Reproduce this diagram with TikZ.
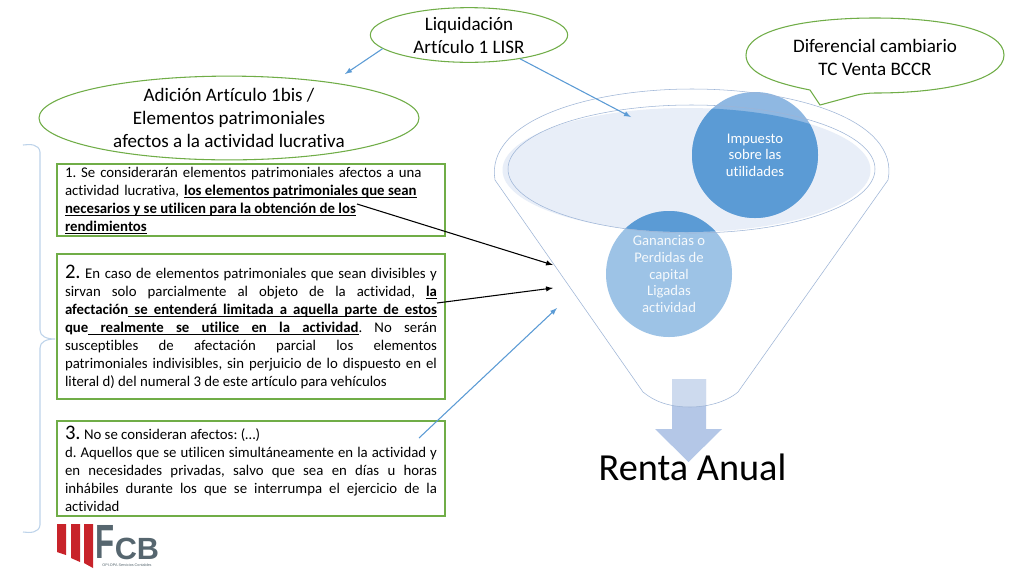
\documentclass[tikz,border=0pt]{standalone}
\usepackage{fontspec}
\setmainfont{Carlito}[Ligatures={NoCommon,TeX}]
\newfontfamily\logofont{Liberation Sans}
\usetikzlibrary{shapes.geometric}
\definecolor{bubbleGreen}{HTML}{70AD47}
\definecolor{funnelLine}{HTML}{9DB4D6}
\definecolor{arrowBlue}{HTML}{5B9BD5}
\definecolor{circleDark}{HTML}{5B9BD5}
\definecolor{circleLight}{HTML}{9DC3E6}
\definecolor{circleTop}{HTML}{8FB8E2}
\definecolor{funnelFill}{HTML}{E8EEF8}
\definecolor{bigArrow}{HTML}{B4C7E7}
\definecolor{bigArrowTop}{HTML}{CDDAEE}
\definecolor{braceBlue}{HTML}{BDD3EA}
\definecolor{logoRed}{HTML}{C8232A}
\definecolor{logoGrey}{HTML}{56666F}
\tikzset{
    bubble/.style={draw=bubbleGreen,fill=white,thick,ellipse,inner sep=0,align=center,font=\fontsize{14.3}{17.2}\selectfont},
    textbox/.style={draw=bubbleGreen,thick,fill=white,minimum width=291pt,inner xsep=6pt,inner ysep=0,text width=279pt,font=\frenchspacing\fontsize{11.1}{13.5}\selectfont},
    circletext/.style={text=white,align=center,font=\fontsize{11}{12.4}\selectfont},
    blueline/.style={draw=arrowBlue,thick,-latex},
    blackline/.style={draw=black,thick,-latex},
    logobar/.style={fill=logoRed,draw=none},
}
\newcommand{\urule}{\leaders\hrule height -1.2pt depth 1.7pt}
\def\bulgo#1 #2\bulend{\setbox0\hbox{#1}\urule\hskip\wd0\relax\kern-\wd0\copy0
    \if\relax\detokenize{#2}\relax\else
    \urule\hskip\fontdimen2\font plus\fontdimen3\font minus\fontdimen4\font\relax
    \bulgo#2\bulend\fi}
\newcommand{\bul}[1]{\leavevmode{\bfseries\bulgo#1 \bulend}}
\begin{document}
\begin{tikzpicture}[x=0.75pt,y=-0.75pt]
    \useasboundingbox (0,0) rectangle (1024,576);
    \fill[white] (0,0) rectangle (1024,576);

    \fill[funnelFill] (686.5,170) ellipse [x radius=184,y radius=62];
    \fill[circleTop] (755,155) circle (63);
    \fill[circleLight] (669,274) circle (63);
    \begin{scope}
        \clip (686.5,170) ellipse [x radius=184,y radius=62];
        \fill[circleDark] (755,155) circle (63);
        \fill[circleDark] (669,274) circle (63);
    \end{scope}
    \draw[funnelLine] (691.5,169) ellipse [x radius=183.5,y radius=64];

    \fill[bigArrow] (672,379) -- (706,379) -- (706,429) -- (722,429) -- (688.5,462) -- (655,429) -- (672,429) -- cycle;
    \begin{scope}
        \clip (495,180) .. controls (485,120) and (590,89) .. (692,89) .. controls (795,89) and (900,120) .. (888,180) -- (738,392) .. controls (725,403) and (705,407) .. (690,407) .. controls (670,407) and (655,402) .. (643,392) -- cycle;
        \fill[bigArrowTop] (672,379) rectangle (706,429);
    \end{scope}
    \draw[funnelLine] (495,180) .. controls (485,120) and (590,89) .. (692,89) .. controls (795,89) and (900,120) .. (888,180) -- (738,392) .. controls (725,403) and (705,407) .. (690,407) .. controls (670,407) and (655,402) .. (643,392) -- cycle;

    \node[circletext] (impuesto) at (755,155) {Impuesto\\sobre las\\utilidades};
    \node[circletext,text=white!90!circleLight] (ganancias) at (669,274) {Ganancias o\\Perdidas de\\capital\\Ligadas\\actividad};
    \node[font=\fontsize{28.7}{32}\selectfont] (renta) at (692.5,467) {Renta Anual};

    \draw[draw=bubbleGreen,fill=white,thick] (810,90) .. controls (770,82) and (746,72) .. (746,55) .. controls (746,30) and (805,18) .. (875,18) .. controls (945,18) and (1004,30) .. (1004,55) .. controls (1004,80) and (945,93) .. (875,93) .. controls (868,93) and (862,94) .. (857,95) -- (820,105) -- cycle;
    \node[align=center,font=\fontsize{14.3}{17.2}\selectfont] (diferencial) at (875,57) {Diferencial cambiario\\TC Venta BCCR};

    \node[bubble,minimum width=148pt,minimum height=41pt] (liquidacion) at (469,35) {Liquidación\\Artículo 1 LISR};
    \node[bubble,minimum width=285pt,minimum height=60pt] (adicion) at (229,118) {Adición Artículo 1bis /\\Elementos patrimoniales\\afectos a la actividad lucrativa};

    \node[textbox,minimum height=54pt,align=left] (boxUno) at (251,200) {1. Se considerarán elementos patrimoniales afectos a una\\
        actividad lucrativa, \bul{los elementos patrimoniales que sean}\\
        \bul{necesarios y se utilicen para la obtención de los}\\
        \bul{rendimientos}};
    \node[textbox,minimum height=108.75pt,align=justify] (boxDos) at (251,326.5) {{\fontsize{15.5}{13.5}\selectfont 2.} En caso de elementos patrimoniales que sean divisibles y\linebreak
        sirvan solo parcialmente al objeto de la actividad, \bul{la}\linebreak
        \bul{afectación se entenderá limitada a aquella parte de estos}\linebreak
        \bul{que realmente se utilice en la actividad}. No serán\linebreak
        susceptibles de afectación parcial los elementos\linebreak
        patrimoniales indivisibles, sin perjuicio de lo dispuesto en el\linebreak
        literal d) del numeral 3 de este artículo para vehículos};
    \node[textbox,minimum height=71.25pt,align=justify] (boxTres) at (251,468.5) {{\fontsize{15.5}{13.5}\selectfont 3.} No se consideran afectos: (…)\\
        d. Aquellos que se utilicen simultáneamente en la actividad y\linebreak
        en necesidades privadas, salvo que sea en días u horas\linebreak
        inhábiles durante los que se interrumpa el ejercicio de la\linebreak
        actividad};

    \coordinate (tipAdicion) at (345,74);
    \coordinate (tipElipse) at (631,117);
    \coordinate (startUno) at (357,204);
    \coordinate (tipUno) at (553,265);
    \coordinate (startDos) at (437,303);
    \coordinate (tipDos) at (553,288);
    \coordinate (startTres) at (419,438);
    \coordinate (tipTres) at (557,308);
    \draw[blueline] (liquidacion.189) -- (tipAdicion);
    \draw[blueline] (liquidacion.-25) -- (tipElipse);
    \draw[blackline] (startUno) -- (tipUno);
    \draw[blackline] (startDos) -- (tipDos);
    \draw[blueline] (startTres) -- (tipTres);

    \draw[braceBlue,thick] (23,145) .. controls (30,144) and (39,144) .. (40,152) -- (40,330) .. controls (40,336) and (46,339) .. (55,339) .. controls (46,339) and (40,342) .. (40,348) -- (40,525) .. controls (39,533) and (30,533) .. (23,532);

    \fill[logobar] (57,524) -- (66,524) -- (66,555) -- (57,552) -- cycle;
    \fill[logobar] (71,524) -- (80,524) -- (80,562) -- (71,558) -- cycle;
    \fill[logobar] (84,524) -- (93,524) -- (93,568) -- (84,563) -- cycle;
    \node[text=logoGrey,inner sep=0,xscale=0.65,font=\logofont\bfseries\fontsize{36}{36}\selectfont] (logoF) at (105.5,542) {F};
    \node[text=logoGrey,inner sep=0,font=\logofont\bfseries\fontsize{23}{23}\selectfont] (logoCB) at (137,549) {CB};
    \node[text=logoGrey,inner sep=0,font=\logofont\fontsize{2.8}{3}\selectfont] (logoSub) at (127,565) {OPI.OPA Servicios Contables};
\end{tikzpicture}
\end{document}
